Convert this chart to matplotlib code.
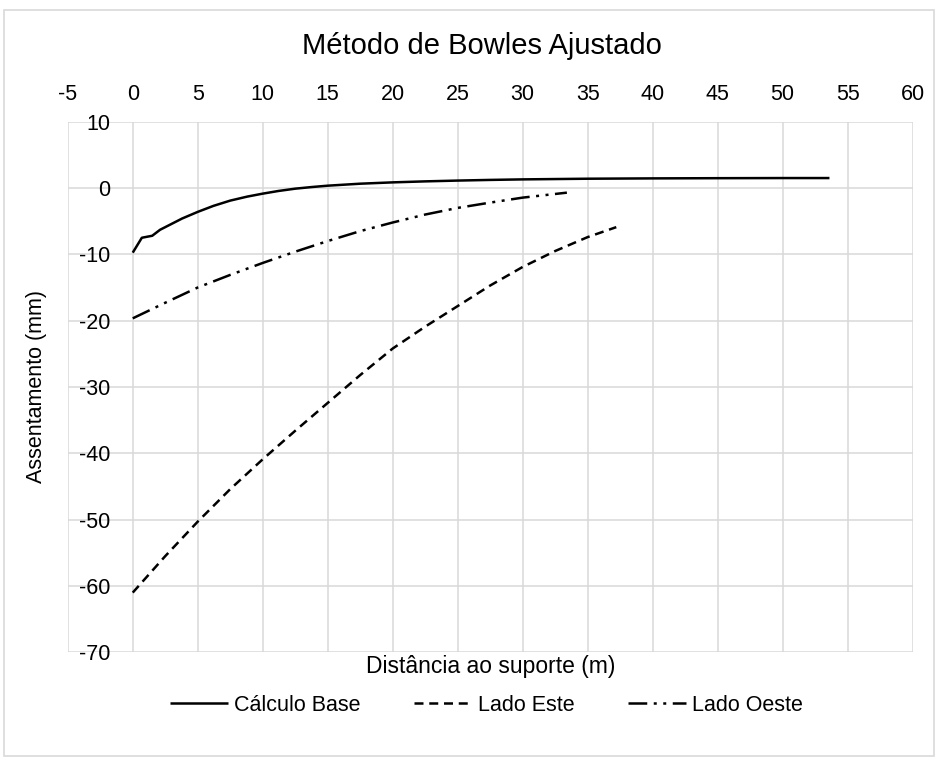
import matplotlib
matplotlib.use("Agg")
import matplotlib.pyplot as plt
from matplotlib.patches import Rectangle

plt.rcParams['font.family'] = ['Liberation Sans', 'DejaVu Sans']
plt.rcParams['axes.unicode_minus'] = False

# Settlement profiles (distance in m, settlement in mm)
base_x = [0, 0.7, 1.5, 2.1, 2.9, 3.8, 5, 6.2, 7.5, 8.8, 10, 11.2, 12.5, 13.8, 15,
          17.5, 20, 22.5, 25, 27.5, 30, 35, 40, 45, 50, 53.6]
base_y = [-9.75, -7.5, -7.2, -6.3, -5.5, -4.6, -3.6, -2.7, -1.9, -1.3, -0.85, -0.45,
          -0.1, 0.15, 0.35, 0.65, 0.85, 1.0, 1.12, 1.22, 1.3, 1.4, 1.45, 1.48, 1.5, 1.5]

este_x = [0, 2.5, 5, 7.5, 10, 12.5, 15, 17.5, 20, 22.5, 25, 27.5, 30, 32.5, 35, 37.2]
este_y = [-61.0, -55.5, -50.3, -45.4, -40.9, -36.6, -32.4, -28.2, -24.2, -20.9,
          -17.8, -14.7, -11.9, -9.5, -7.4, -5.9]

oeste_x = [0, 2.5, 5, 7.5, 10, 12.5, 15, 17.5, 20, 22.5, 25, 27.5, 30, 33.4]
oeste_y = [-19.65, -17.3, -15.0, -13.1, -11.3, -9.6, -8.0, -6.5, -5.2, -4.0,
           -3.0, -2.2, -1.45, -0.7]

series_names = ['Cálculo Base', 'Lado Este', 'Lado Oeste']
x_ticks = list(range(-5, 61, 5))
y_ticks = list(range(-70, 11, 10))

fig = plt.figure(figsize=(9.37, 7.6), dpi=100)
fig.patches.append(Rectangle((0.004, 0.005), 0.993, 0.982, transform=fig.transFigure,
                             fill=False, edgecolor='#d9d9d9', linewidth=1.2))

ax = fig.add_axes([0.0723, 0.1417, 0.9017, 0.6982])
ax.set_xlim(-5, 60)
ax.set_ylim(-70, 10)
ax.set_xticks(x_ticks)
ax.set_yticks(y_ticks)
ax.grid(True, color='#d9d9d9', linewidth=1.1)
ax.set_axisbelow(True)
for s in ax.spines.values():
    s.set_visible(False)

ax.xaxis.tick_top()
ax.tick_params(axis='x', length=0, pad=12, labelsize=15.5)
ax.spines['left'].set_position(('data', 0))
ax.tick_params(axis='y', length=0, pad=16, labelsize=15.5)

lw = 1.8
ax.plot(base_x, base_y, color='black', lw=lw, solid_capstyle='butt', label=series_names[0])
ax.plot(este_x, este_y, color='black', lw=lw, linestyle=(0, (3.6, 2.3)),
        dash_capstyle='butt', label=series_names[1])
ax.plot(oeste_x, oeste_y, color='black', lw=lw,
        linestyle=(0, (7.5, 2.6, 1.2, 2.6, 1.2, 2.6)),
        dash_capstyle='butt', label=series_names[2])

fig.text(0.514, 0.939, 'Método de Bowles Ajustado', ha='center', va='center', fontsize=21)
ax.set_xlabel('Distância ao suporte (m)', fontsize=16.5)
ax.xaxis.set_label_position('bottom')
ax.xaxis.set_label_coords(0.5, -0.006)
ax.xaxis.label.set_va('top')
ax.set_ylabel('Assentamento (mm)', fontsize=15.5)
ax.yaxis.set_label_coords(-0.024, 0.5)

fig.legend(loc='center', bbox_to_anchor=(0.519, 0.072), ncol=3, frameon=False,
           fontsize=15.5, handlelength=2.7, handletextpad=0.25, columnspacing=2.5)

fig.savefig('out.png', dpi=100)
